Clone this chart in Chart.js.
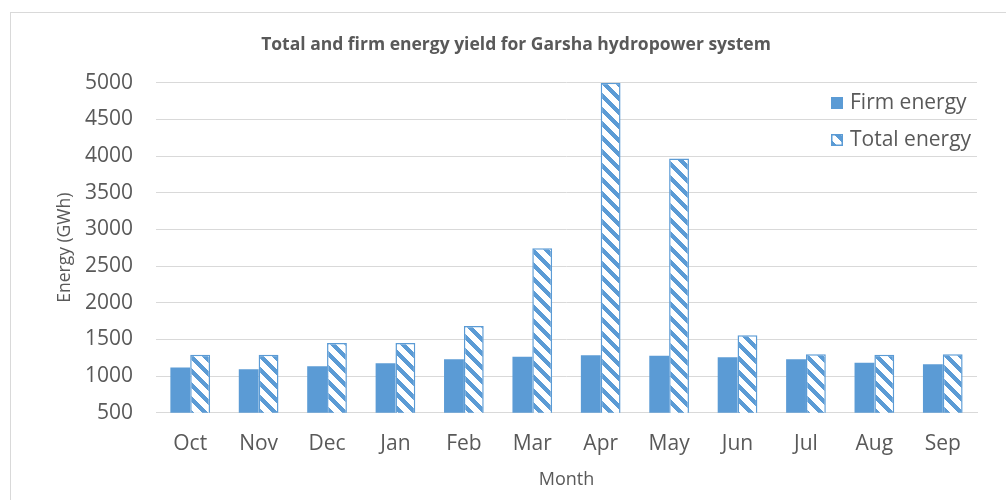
<!DOCTYPE html>
<html>
<head>
<meta charset="utf-8">
<script src="https://cdn.jsdelivr.net/npm/chart.js@4"></script>
<style>
  html, body { margin: 0; padding: 0; background: #fff; }
  #wrap { position: relative; width: 1006px; height: 500px; }
</style>
</head>
<body>
<div id="wrap"><canvas id="energy-chart" width="1006" height="500"></canvas></div>
<script>
const chartTitle = "Total and firm energy yield for Garsha hydropower system";
const months = ["Oct", "Nov", "Dec", "Jan", "Feb", "Mar", "Apr", "May", "Jun", "Jul", "Aug", "Sep"];
const firmEnergy = [1115, 1092, 1133, 1174, 1228, 1264, 1283, 1277, 1255, 1228, 1182, 1160];
const totalEnergy = [1291, 1291, 1450, 1450, 1682, 2742, 5000, 3965, 1555, 1296, 1291, 1296];
const yTicks = [500, 1000, 1500, 2000, 2500, 3000, 3500, 4000, 4500, 5000];

const blue = "#5B9BD5";
const textGray = "#595959";

// diagonal "\" stripes like the Excel pattern fill
function makeStripePattern() {
  const size = 14;
  const c = document.createElement("canvas");
  c.width = size;
  c.height = size;
  const g = c.getContext("2d");
  const img = g.createImageData(size, size);
  for (let y = 0; y < size; y++) {
    for (let x = 0; x < size; x++) {
      const d = (((x - y) % size) + size) % size;
      const i = (y * size + x) * 4;
      if (d < 6) {
        img.data[i] = 0x5b; img.data[i + 1] = 0x9b; img.data[i + 2] = 0xd5;
      } else {
        img.data[i] = 255; img.data[i + 1] = 255; img.data[i + 2] = 255;
      }
      img.data[i + 3] = 255;
    }
  }
  g.putImageData(img, 0, 0);
  return g.createPattern(c, "repeat");
}

const stripes = makeStripePattern();

// outer frame + title (title is centred on the frame, not on the plot)
const framePlugin = {
  id: "frame",
  beforeDraw(chart) {
    const ctx = chart.ctx;
    ctx.save();
    ctx.strokeStyle = "#d9d9d9";
    ctx.lineWidth = 1;
    ctx.strokeRect(10.5, 12.5, 1010, 520);
    ctx.restore();
  },
  afterDraw(chart) {
    const ctx = chart.ctx;
    ctx.save();
    ctx.font = "bold 17.5px 'Open Sans'";
    ctx.fillStyle = textGray;
    ctx.textAlign = "center";
    ctx.textBaseline = "middle";
    ctx.fillText(chartTitle, 516, 45);
    ctx.restore();
  }
};

// legend sits on top of the plot area, right side
const legendPlugin = {
  id: "insideLegend",
  afterDraw(chart) {
    const ctx = chart.ctx;
    const x = 831;
    const rows = [103, 140];
    ctx.save();
    ctx.font = "21px 'Open Sans'";
    ctx.textBaseline = "middle";
    chart.data.datasets.forEach((ds, i) => {
      const y = rows[i];
      ctx.fillStyle = ds.backgroundColor;
      ctx.fillRect(x, y - 6, 12, 12);
      if (ds.borderWidth) {
        ctx.strokeStyle = ds.borderColor;
        ctx.lineWidth = 1.5;
        ctx.strokeRect(x + 0.75, y - 5.25, 10.5, 10.5);
      }
      ctx.fillStyle = textGray;
      ctx.fillText(ds.label, x + 19, y);
    });
    ctx.restore();
  }
};

const ctx = document.getElementById("energy-chart").getContext("2d");
new Chart(ctx, {
  type: "bar",
  data: {
    labels: months,
    datasets: [
      {
        label: "Firm energy",
        data: firmEnergy,
        backgroundColor: blue,
        borderWidth: 0,
        categoryPercentage: 0.58,
        barPercentage: 1.0,
      },
      {
        label: "Total energy",
        data: totalEnergy,
        backgroundColor: stripes,
        borderColor: blue,
        borderWidth: 1.5,
        categoryPercentage: 0.58,
        barPercentage: 1.0,
      },
    ],
  },
  options: {
    responsive: false,
    animation: false,
    layout: { padding: { left: 0, right: 29, top: 82.7, bottom: 0 } },
    plugins: {
      legend: { display: false },
      tooltip: { enabled: false },
      title: { display: false },
    },
    scales: {
      x: {
        grid: { display: false, drawTicks: false },
        border: { display: true, color: "#d9d9d9", width: 1 },
        ticks: { color: textGray, font: { family: "'Open Sans'", size: 21 }, padding: 19 },
        title: {
          display: true,
          text: "Month",
          color: textGray,
          font: { family: "'Open Sans'", size: 18, lineHeight: 1.2 },
          padding: { top: 0, bottom: 9 },
        },
        afterFit(scale) { scale.height = 87.3; },
      },
      y: {
        min: 500,
        max: 5000,
        afterBuildTicks(scale) { scale.ticks = yTicks.map((v) => ({ value: v })); },
        grid: { color: "#d9d9d9", lineWidth: 1, drawTicks: false },
        border: { display: false },
        ticks: {
          color: textGray,
          font: { family: "'Open Sans'", size: 21 },
          padding: 23,
          callback: (v) => String(v),
        },
        title: {
          display: true,
          text: "Energy (GWh)",
          color: textGray,
          font: { family: "'Open Sans'", size: 17.5, lineHeight: 1.2 },
          padding: { top: 55, bottom: 0 },
        },
        afterFit(scale) { scale.width = 156; },
      },
    },
  },
  plugins: [framePlugin, legendPlugin],
});
</script>
</body>
</html>
